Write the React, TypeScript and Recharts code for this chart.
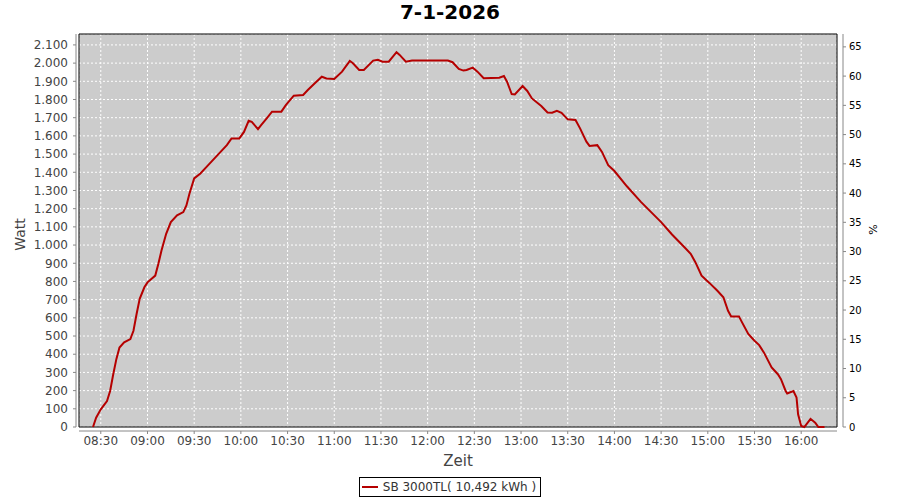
import { CartesianGrid, Legend, Line, LineChart, ReferenceArea, XAxis, YAxis } from "recharts";

const TITLE = "7-1-2026";
const SERIES_NAME = "SB 3000TL( 10,492 kWh )";

// readings off the inverter log, time of day -> watt
const TIMES = [
  "08:25", "08:27", "08:30", "08:34", "08:36", "08:38", "08:40", "08:42", "08:45", "08:49",
  "08:51", "08:53", "08:55", "08:58", "09:00", "09:05", "09:07", "09:09", "09:12", "09:15",
  "09:19", "09:23", "09:25", "09:27", "09:30", "09:34", "09:39", "09:45", "09:51", "09:54",
  "09:59", "10:02", "10:05", "10:07", "10:11", "10:13", "10:17", "10:20", "10:26", "10:29",
  "10:34", "10:40", "10:43", "10:48", "10:52", "10:55", "11:00", "11:05", "11:10", "11:12",
  "11:16", "11:19", "11:25", "11:28", "11:31", "11:35", "11:40", "11:42", "11:46", "11:50",
  "12:13", "12:16", "12:20", "12:23", "12:25", "12:29", "12:32", "12:36", "12:46", "12:49",
  "12:51", "12:54", "12:56", "13:01", "13:04", "13:07", "13:13", "13:17", "13:20", "13:23",
  "13:26", "13:30", "13:35", "13:38", "13:42", "13:44", "13:49", "13:52", "13:56", "14:00",
  "14:08", "14:17", "14:30", "14:37", "14:45", "14:49", "14:52", "14:56", "15:01", "15:06",
  "15:10", "15:13", "15:15", "15:20", "15:22", "15:26", "15:30", "15:33", "15:36", "15:41",
  "15:45", "15:47", "15:50", "15:51", "15:55", "15:57", "15:58", "16:00", "16:02", "16:06",
  "16:09", "16:11", "16:15",
];
const WATTS = [
  0, 51, 97, 143, 198, 290, 373, 437, 465, 483,
  529, 621, 704, 768, 795, 832, 897, 970, 1062, 1126,
  1163, 1181, 1218, 1283, 1366, 1393, 1439, 1494, 1549, 1586,
  1586, 1622, 1683, 1677, 1637, 1659, 1701, 1733, 1733, 1770,
  1821, 1825, 1852, 1893, 1925, 1916, 1913, 1953, 2012, 1999,
  1962, 1962, 2014, 2018, 2008, 2008, 2060, 2045, 2008, 2014,
  2014, 2005, 1968, 1959, 1962, 1975, 1953, 1917, 1920, 1929,
  1898, 1830, 1828, 1874, 1847, 1806, 1764, 1729, 1727, 1738,
  1727, 1691, 1687, 1640, 1568, 1545, 1549, 1512, 1439, 1407,
  1323, 1237, 1126, 1058, 988, 952, 906, 832, 792, 750,
  713, 639, 608, 608, 575, 511, 474, 450, 410, 327,
  290, 263, 198, 184, 198, 162, 70, 6, 0, 45,
  24, 0, 0,
];

const TIME_TICKS = [
  "08:30", "09:00", "09:30", "10:00", "10:30", "11:00", "11:30", "12:00",
  "12:30", "13:00", "13:30", "14:00", "14:30", "15:00", "15:30", "16:00",
];
const WATT_TICKS = [
  0, 100, 200, 300, 400, 500, 600, 700, 800, 900, 1000,
  1100, 1200, 1300, 1400, 1500, 1600, 1700, 1800, 1900, 2000, 2100,
];
const PERCENT_TICKS = [0, 5, 10, 15, 20, 25, 30, 35, 40, 45, 50, 55, 60, 65];

const X_DOMAIN: [number, number] = [496, 983];
const W_DOMAIN: [number, number] = [0, 2160];
const P_DOMAIN: [number, number] = [0, 67.2];

const FONT = "'DejaVu Sans', sans-serif";
const RED = "#b50000";

const toMin = (s: string) => {
  const [h, m] = s.split(":").map(Number);
  return h * 60 + m;
};
const toClock = (v: number) =>
  `${String(Math.floor(v / 60)).padStart(2, "0")}:${String(v % 60).padStart(2, "0")}`;
// german thousands separator
const dotted = (v: number) => String(v).replace(/\B(?=(\d{3})+(?!\d))/g, ".");

const rows = TIMES.map((t, i) => ({ t: toMin(t), watt: WATTS[i] }));

const wattLabel = ({ viewBox }: any) => {
  const x = viewBox.x + 20;
  const y = viewBox.y + viewBox.height / 2 + 4;
  return (
    <text x={x} y={y} transform={`rotate(-90 ${x} ${y})`} textAnchor="middle" dominantBaseline="central"
      fill="#444" fontSize={14} fontFamily={FONT}>
      Watt
    </text>
  );
};

const percentLabel = ({ viewBox }: any) => {
  const x = viewBox.x + 36;
  const y = viewBox.y + viewBox.height / 2 - 1;
  return (
    <text x={x} y={y} transform={`rotate(-90 ${x} ${y})`} textAnchor="middle" dominantBaseline="central"
      fill="#000" fontSize={11} fontFamily={FONT}>
      %
    </text>
  );
};

const zeitLabel = ({ viewBox }: any) => (
  <text x={viewBox.x + viewBox.width / 2} y={viewBox.y + 39} textAnchor="middle"
    fill="#444" fontSize={15} fontFamily={FONT}>
    Zeit
  </text>
);

function LegendBox() {
  return (
    <div style={{ width: 900, height: 30, display: "flex", justifyContent: "center", alignItems: "flex-start" }}>
      <div
        style={{
          marginTop: 7, height: 20, boxSizing: "border-box", border: "1px solid #000", background: "#fff",
          display: "flex", alignItems: "center", padding: "0 4px 0 2px", fontFamily: FONT, fontSize: 12, color: "#333",
        }}
      >
        <span style={{ display: "inline-block", width: 16, height: 2, background: RED, marginRight: 5 }} />
        {SERIES_NAME}
      </div>
    </div>
  );
}

export default function App() {
  return (
    <div style={{ position: "absolute", left: 0, top: 0, width: 900, height: 500, background: "#fff" }}>
      <div
        style={{
          position: "absolute", left: 0, top: 0, width: 900, textAlign: "center", fontFamily: FONT,
          fontWeight: "bold", fontSize: 20, lineHeight: "24px", color: "#000", zIndex: 1,
        }}
      >
        {TITLE}
      </div>
      <LineChart width={900} height={500} data={rows} margin={{ top: 34, right: 0, bottom: 0, left: 0 }}>
        <CartesianGrid yAxisId="w" fill="#cccccc" stroke="#ffffff" strokeDasharray="2 2" />
        <XAxis
          dataKey="t"
          type="number"
          domain={X_DOMAIN}
          ticks={TIME_TICKS.map(toMin)}
          tickFormatter={toClock}
          interval={0}
          height={43}
          tickSize={3}
          tickMargin={6}
          axisLine={{ stroke: "#888", transform: "translate(0,4)" }}
          tickLine={{ stroke: "#888", transform: "translate(0,4)" }}
          tick={{ fill: "#444", fontSize: 12, fontFamily: FONT }}
          label={{ content: zeitLabel }}
        />
        <YAxis
          yAxisId="w"
          width={79}
          domain={W_DOMAIN}
          ticks={WATT_TICKS}
          tickFormatter={dotted}
          interval={0}
          tickSize={3}
          tickMargin={8}
          axisLine={{ stroke: "#888", transform: "translate(-3,0)" }}
          tickLine={{ stroke: "#888", transform: "translate(-3,0)" }}
          tick={{ fill: "#444", fontSize: 12, fontFamily: FONT }}
          label={{ content: wattLabel }}
        />
        <YAxis
          yAxisId="p"
          orientation="right"
          width={63}
          type="number"
          domain={P_DOMAIN}
          allowDataOverflow
          ticks={PERCENT_TICKS}
          interval={0}
          tickSize={3}
          tickMargin={9}
          axisLine={{ stroke: "#888", transform: "translate(6,0)" }}
          tickLine={{ stroke: "#888", transform: "translate(6,0)" }}
          tick={{ fill: "#000", fontSize: 10, fontFamily: FONT }}
          label={{ content: percentLabel }}
        />
        {/* the percent axis carries no values on this day */}
        <Line
          yAxisId="p"
          dataKey="pct"
          stroke="none"
          dot={false}
          legendType="none"
          isAnimationActive={false}
        />
        <Line
          yAxisId="w"
          type="linear"
          dataKey="watt"
          name={SERIES_NAME}
          stroke={RED}
          strokeWidth={2}
          dot={false}
          isAnimationActive={false}
        />
        <ReferenceArea
          yAxisId="w"
          x1={X_DOMAIN[0]}
          x2={X_DOMAIN[1]}
          y1={W_DOMAIN[0]}
          y2={W_DOMAIN[1]}
          fill="none"
          stroke="#000"
          strokeWidth={1}
        />
        <Legend verticalAlign="bottom" content={() => <LegendBox />} />
      </LineChart>
    </div>
  );
}
